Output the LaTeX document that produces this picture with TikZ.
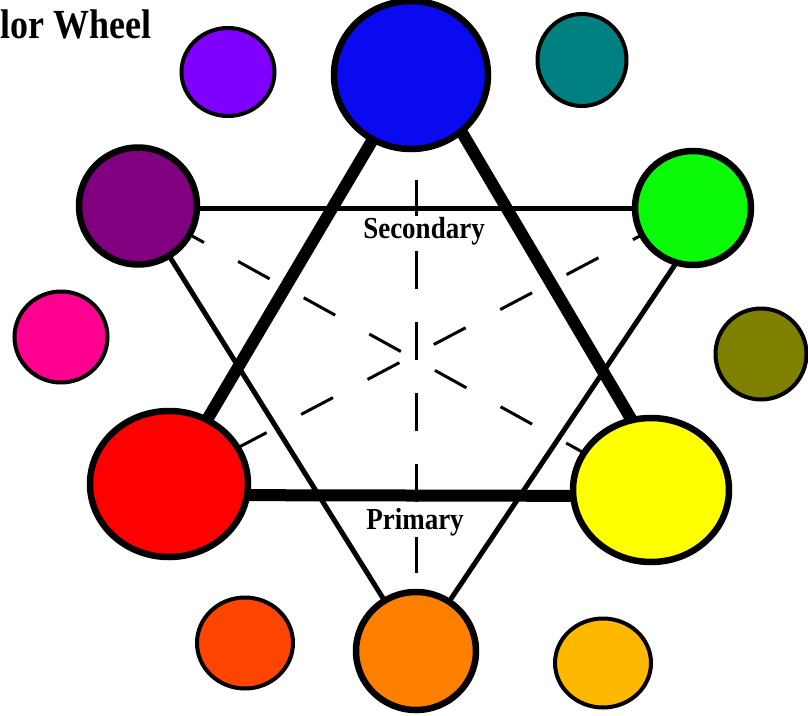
\documentclass[tikz,border=0pt]{standalone}
\usepackage{fontspec}
\setmainfont{Liberation Serif}
\usetikzlibrary{shapes.geometric}
\pgfdeclarelayer{back}
\pgfdeclarelayer{links}
\pgfsetlayers{back,links,main}
\definecolor{cblue}{RGB}{10,10,240}
\definecolor{cviolet}{RGB}{128,0,255}
\definecolor{cteal}{RGB}{0,128,128}
\definecolor{cpurple}{RGB}{128,0,128}
\definecolor{cgreen}{RGB}{10,250,10}
\definecolor{cpink}{RGB}{255,0,144}
\definecolor{colive}{RGB}{128,128,0}
\definecolor{cred}{RGB}{255,0,0}
\definecolor{cyellow}{RGB}{255,255,0}
\definecolor{credorange}{RGB}{255,69,0}
\definecolor{corange}{RGB}{255,128,0}
\definecolor{cyelloworange}{RGB}{255,184,0}
\newcommand{\tallbold}[1]{\scalebox{1}[1.13]{#1}}
\begin{document}
\begin{tikzpicture}[x=1pt,y=-1pt,
  bigdisc/.style={ellipse, draw=black, line width=6.5pt, inner sep=0pt, outer sep=0pt},
  smalldisc/.style={ellipse, draw=black, line width=4pt, inner sep=0pt, outer sep=0pt},
  primline/.style={line width=12pt},
  secline/.style={line width=5pt},
  compline/.style={line width=3pt},
  lbl/.style={font=\bfseries\fontsize{27}{30}\selectfont, fill=white, inner sep=1pt},
  ttl/.style={font=\bfseries\fontsize{36}{40}\selectfont, inner sep=0pt}]
\useasboundingbox (0,0) rectangle (808,715);
\begin{pgfonlayer}{back}
  \fill[white] (0,0) rectangle (808,715);
\end{pgfonlayer}

% primary and secondary discs
\node[bigdisc, fill=cblue,   minimum width=154pt, minimum height=148pt] (blue)   at (411,75)  {};
\node[bigdisc, fill=cpurple, minimum width=118pt, minimum height=117pt] (purple) at (138,206) {};
\node[bigdisc, fill=cgreen,  minimum width=116pt, minimum height=114pt] (green)  at (693,208) {};
\node[bigdisc, fill=cred,    minimum width=158pt, minimum height=146pt] (red)    at (169,484) {};
\node[bigdisc, fill=cyellow, minimum width=156pt, minimum height=144pt] (yellow) at (651,490) {};
\node[bigdisc, fill=corange, minimum width=120pt, minimum height=118pt] (orange) at (416,651) {};
% tertiary discs
\node[smalldisc, fill=cviolet,       minimum width=93pt, minimum height=88pt] (violet)       at (228,72)  {};
\node[smalldisc, fill=cteal,         minimum width=89pt, minimum height=92pt] (teal)         at (582,60)  {};
\node[smalldisc, fill=cpink,         minimum width=93pt, minimum height=91pt] (pink)         at (61,337)  {};
\node[smalldisc, fill=colive,        minimum width=91pt, minimum height=91pt] (olive)        at (761,354) {};
\node[smalldisc, fill=credorange,    minimum width=96pt, minimum height=91pt] (redorange)    at (245,643) {};
\node[smalldisc, fill=cyelloworange, minimum width=96pt, minimum height=89pt] (yelloworange) at (603,663) {};

\begin{pgfonlayer}{links}
  % complementary pairs (dashed)
  \draw[compline, dash pattern=on 38pt off 33pt, dash phase=37pt]
    ([xshift=5pt]blue.center) -- (orange.center);
  \draw[compline, dash pattern=on 36pt off 39pt, dash phase=35.6pt]
    (purple.center) -- (yellow.center);
  \draw[compline, dash pattern=on 36pt off 39pt, dash phase=43.1pt]
    (green.center) -- (red.center);
  % secondary triangle
  \draw[secline] ([yshift=-2pt]purple.center) -- (green.center);
  \draw[secline] (purple.center) -- (orange.center);
  \draw[secline] ([xshift=20pt]green.center) -- (orange.center);
  % primary triangle
  \draw[primline] (blue.center) -- (red.center);
  \draw[primline] ([xshift=17pt]blue.center) -- ([xshift=22pt]yellow.center);
  \draw[primline] ([yshift=-11pt]red.center) -- ([yshift=-6pt]yellow.center);
\end{pgfonlayer}

\node[lbl, anchor=base] (sec)  at (424,238) {\tallbold{Secondary}};
\node[lbl, anchor=base] (prim) at (415,529) {\tallbold{Primary}};
\node[ttl, anchor=base west] (title) at (0,38) {\scalebox{1}[1.15]{lor Wheel}};
\end{tikzpicture}
\end{document}
